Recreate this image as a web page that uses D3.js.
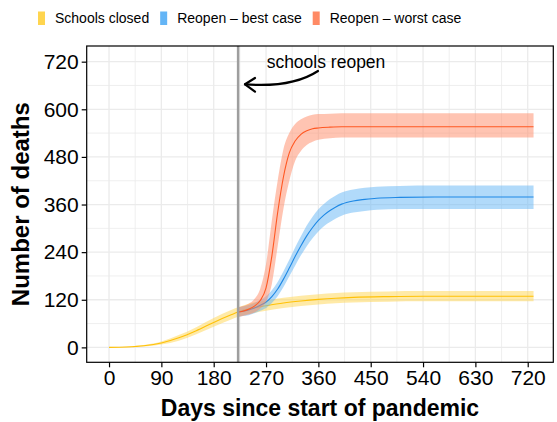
<!DOCTYPE html>
<html>
<head>
<meta charset="utf-8">
<script src="https://cdn.jsdelivr.net/npm/d3@7"></script>
<style>
  body { margin: 0; background: #fff; }
  svg { display: block; }
  text { font-family: "Liberation Sans", Arial, Helvetica, sans-serif; }
</style>
</head>
<body>
<svg id="chart" width="557" height="422"></svg>
<script>
// ---- Data: cumulative deaths by scenario ----
const closedDays = [0, 30, 60, 90, 120, 150, 180, 210, 222, 240, 270, 300, 330, 360, 390, 420, 480, 540, 600, 660, 730];
const closedMid  = [0, 1, 4, 11, 24, 42, 63, 82, 89, 97, 105, 112, 117, 121, 124, 126, 128, 129, 129, 129, 129];
const closedLo   = [0, 0.5, 2, 7, 17, 33, 52, 70, 77, 84, 92, 99, 104, 108, 111, 113, 115, 116, 116, 116, 116];
const closedHi   = [0, 1.5, 6, 15, 31, 51, 74, 94, 101, 110, 118, 125, 130, 134, 137, 139, 141, 142, 142, 142, 142];

const bestDays = [222, 230, 240, 250, 260, 270, 280, 290, 300, 310, 320, 330, 340, 350, 360, 370, 380, 390, 400, 420, 440, 460, 500, 560, 620, 680, 730];
const bestMid  = [89, 91, 94, 99, 106, 114, 128, 147, 172, 200, 229, 256, 281, 302, 320, 334, 345, 354, 361, 369, 373, 376, 378, 379, 379, 379, 379];
const bestLo   = [77, 79, 81, 86, 92, 99, 112, 129, 152, 179, 206, 232, 255, 275, 292, 306, 316, 325, 332, 340, 344, 347, 349, 349, 349, 349, 349];
const bestHi   = [101, 103, 107, 112, 120, 129, 144, 165, 192, 221, 252, 280, 307, 329, 348, 362, 374, 383, 390, 398, 402, 405, 407, 408, 408, 408, 408];

const worstDays = [222, 230, 240, 250, 260, 270, 280, 290, 300, 310, 320, 330, 340, 350, 360, 380, 400, 450, 500, 560, 620, 680, 730];
const worstMid  = [89, 91, 96, 104, 118, 150, 230, 340, 430, 490, 520, 537, 546, 551, 553, 555, 556, 556, 556, 556, 556, 556, 556];
const worstLo   = [77, 79, 83, 88, 98, 115, 160, 255, 350, 420, 470, 495, 510, 518, 523, 527, 529, 529, 529, 529, 529, 529, 529];
const worstHi   = [101, 104, 110, 122, 148, 210, 320, 420, 500, 540, 563, 575, 582, 586, 588, 589, 590, 590, 590, 590, 590, 590, 590];

const scenarioNames = ["Schools closed", "Reopen \u2013 best case", "Reopen \u2013 worst case"];
const lineColors    = ["#FFC107", "#1E88E5", "#FF5722"];
const fillColors    = ["#FFD54F", "#64B5F6", "#FF8A65"];

const reopenDay = 222;
const annotationText = "schools reopen";

const xTicks = [0, 90, 180, 270, 360, 450, 540, 630, 720];
const yTicks = [0, 120, 240, 360, 480, 600, 720];
const xMinor = [45, 135, 225, 315, 405, 495, 585, 675];
const yMinor = [60, 180, 300, 420, 540, 660];

const xTitle = "Days since start of pandemic";
const yTitle = "Number of deaths";

// ---- Layout ----
const panel = { left: 86.7, top: 46, right: 553.3, bottom: 362.3 };

const svg = d3.select("#chart");

const x = d3.scaleLinear().domain([-38.4, 764]).range([panel.left, panel.right]);
const y = d3.scaleLinear().domain([-37.6, 759.5]).range([panel.bottom, panel.top]);

// gridlines
const grid = svg.append("g");
grid.selectAll("line.vminor").data(xMinor).join("line")
  .attr("x1", d => x(d)).attr("x2", d => x(d))
  .attr("y1", panel.top).attr("y2", panel.bottom)
  .attr("stroke", "#EBEBEB").attr("stroke-width", 0.8);
grid.selectAll("line.hminor").data(yMinor).join("line")
  .attr("y1", d => y(d)).attr("y2", d => y(d))
  .attr("x1", panel.left).attr("x2", panel.right)
  .attr("stroke", "#EBEBEB").attr("stroke-width", 0.8);
grid.selectAll("line.vmajor").data(xTicks).join("line")
  .attr("x1", d => x(d)).attr("x2", d => x(d))
  .attr("y1", panel.top).attr("y2", panel.bottom)
  .attr("stroke", "#EBEBEB").attr("stroke-width", 1.3);
grid.selectAll("line.hmajor").data(yTicks).join("line")
  .attr("y1", d => y(d)).attr("y2", d => y(d))
  .attr("x1", panel.left).attr("x2", panel.right)
  .attr("stroke", "#EBEBEB").attr("stroke-width", 1.3);

// scenario ribbons and lines
const series = [
  { days: closedDays, mid: closedMid, lo: closedLo, hi: closedHi },
  { days: bestDays,   mid: bestMid,   lo: bestLo,   hi: bestHi },
  { days: worstDays,  mid: worstMid,  lo: worstLo,  hi: worstHi }
];

const area = d3.area()
  .x(d => x(d.day)).y0(d => y(d.lo)).y1(d => y(d.hi))
  .curve(d3.curveMonotoneX);
const line = d3.line()
  .x(d => x(d.day)).y(d => y(d.mid))
  .curve(d3.curveMonotoneX);

const marks = svg.append("g");
series.forEach((s, i) => {
  const rows = s.days.map((d, k) => ({ day: d, mid: s.mid[k], lo: s.lo[k], hi: s.hi[k] }));
  marks.append("path").datum(rows)
    .attr("d", area)
    .attr("fill", fillColors[i]).attr("fill-opacity", 0.5);
  marks.append("path").datum(rows)
    .attr("d", line)
    .attr("fill", "none").attr("stroke", lineColors[i]).attr("stroke-width", 1.1);
});

// reopening marker
svg.append("line")
  .attr("x1", x(reopenDay)).attr("x2", x(reopenDay))
  .attr("y1", panel.top).attr("y2", panel.bottom)
  .attr("stroke", "#9E9E9E").attr("stroke-width", 2.5);

// annotation text and curved arrow
svg.append("text")
  .attr("x", 326).attr("y", 68)
  .attr("text-anchor", "middle")
  .attr("font-size", 17.5)
  .attr("fill", "#000")
  .text(annotationText);

svg.append("path")
  .attr("d", "M318,71 Q292,88 245,84.3")
  .attr("fill", "none").attr("stroke", "#000").attr("stroke-width", 2.2)
  .attr("stroke-linecap", "round");
svg.append("path")
  .attr("d", "M255,78 L245,84.3 L255,91.7")
  .attr("fill", "none").attr("stroke", "#000").attr("stroke-width", 2.2)
  .attr("stroke-linecap", "round").attr("stroke-linejoin", "round");

// panel border
svg.append("rect")
  .attr("x", panel.left).attr("y", panel.top)
  .attr("width", panel.right - panel.left).attr("height", panel.bottom - panel.top)
  .attr("fill", "none").attr("stroke", "#000").attr("stroke-width", 1.2);

// axes
const xAxis = svg.append("g")
  .attr("transform", `translate(0,${panel.bottom})`)
  .call(d3.axisBottom(x).tickValues(xTicks).tickSize(5).tickPadding(3));
const yAxis = svg.append("g")
  .attr("transform", `translate(${panel.left},0)`)
  .call(d3.axisLeft(y).tickValues(yTicks).tickSize(5).tickPadding(3));
[xAxis, yAxis].forEach(g => {
  g.select(".domain").remove();
  g.selectAll(".tick line").attr("stroke", "#000").attr("stroke-width", 1.2);
  g.selectAll(".tick text")
    .attr("fill", "#000")
    .attr("font-size", 21)
    .attr("font-family", "Liberation Sans, Arial, sans-serif");
});

// axis titles
svg.append("text")
  .attr("x", (panel.left + panel.right) / 2).attr("y", 416)
  .attr("text-anchor", "middle")
  .attr("font-size", 23).attr("font-weight", "bold")
  .text(xTitle);
svg.append("text")
  .attr("transform", `translate(29,${(panel.top + panel.bottom) / 2}) rotate(-90)`)
  .attr("text-anchor", "middle")
  .attr("font-size", 24).attr("font-weight", "bold")
  .text(yTitle);

// legend
const legend = svg.append("g");
let lx = 38;
scenarioNames.forEach((name, i) => {
  legend.append("rect")
    .attr("x", lx).attr("y", 11.5).attr("width", 7).attr("height", 13.5)
    .attr("fill", fillColors[i]);
  const t = legend.append("text")
    .attr("x", lx + 17).attr("y", 23)
    .attr("font-size", 14).attr("fill", "#000")
    .text(name);
  lx += 17 + t.node().getComputedTextLength() + 11;
});
</script>
</body>
</html>
